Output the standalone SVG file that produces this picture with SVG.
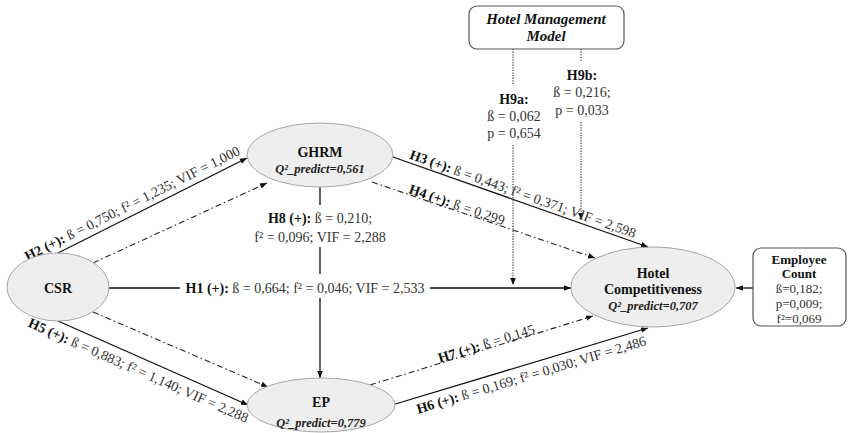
<svg xmlns="http://www.w3.org/2000/svg" width="848" height="433" viewBox="0 0 848 433">
<style>
.bg{fill:#ffffff}
.ell{fill:#eeeeee;stroke:#a6a6a6;stroke-width:1}
.box{fill:#ffffff;stroke:#555555;stroke-width:1.2}
.ln{fill:none;stroke:#111111;stroke-width:1.3}
.dd{fill:none;stroke:#222222;stroke-width:1.1;stroke-dasharray:6 3 1.5 3}
.dt{fill:none;stroke:#444444;stroke-width:1.2;stroke-dasharray:1.3 1.3}
text{font-family:"Liberation Serif","Times New Roman",serif;fill:#333333}
.lbl{font-size:14px}
.b{font-weight:bold;fill:#111111}
.nt{font-size:14px;font-weight:bold;fill:#111111;text-anchor:middle}
.q{font-size:12.5px;font-weight:bold;font-style:italic;fill:#222222;text-anchor:middle}
.mid{text-anchor:middle}
</style>
<defs>
<marker id="ah" viewBox="0 0 10 10" refX="10" refY="5" markerWidth="7" markerHeight="7" markerUnits="userSpaceOnUse" orient="auto">
<path d="M0,1 L10,5 L0,9 Z" fill="#111111"/>
</marker>
</defs>
<rect class="bg" x="0" y="0" width="848" height="433"/>
<g id="connectors">
<path class="ln" d="M58,253 L247,158" marker-end="url(#ah)"/>
<path class="dd" d="M93,263 L267,183" marker-end="url(#ah)"/>
<path class="ln" d="M109,288 L180,288"/>
<path class="ln" d="M430,288 L571,288" marker-end="url(#ah)"/>
<path class="dd" d="M93,312 L268,387" marker-end="url(#ah)"/>
<path class="ln" d="M58,321 L248,405" marker-end="url(#ah)"/>
<path class="ln" d="M320,187 L320,205 M320,247 L320,274"/>
<path class="ln" d="M320,298 L320,378" marker-end="url(#ah)"/>
<path class="ln" d="M393,157 L648,247" marker-end="url(#ah)"/>
<path class="dd" d="M372,182 L595,258" marker-end="url(#ah)"/>
<path class="dd" d="M370,385 L593,316" marker-end="url(#ah)"/>
<path class="ln" d="M392,405 L648,328" marker-end="url(#ah)"/>
<path class="ln" d="M753,288 L736,288" marker-end="url(#ah)"/>
<path class="dt" d="M513,49 L513,85"/>
<path class="dt" d="M513,145 L513,285" marker-end="url(#ah)"/>
<path class="dt" d="M581,49 L581,62"/>
<path class="dt" d="M581,122 L581,220" marker-end="url(#ah)"/>
<g id="labels">
<text class="lbl mid" transform="translate(137,213) rotate(-26.68)" x="0" y="-6"><tspan class="b">H2 (+):</tspan> ß = 0,750; f² = 1,235; VIF = 1,000</text>
<text class="lbl mid" x="305" y="293"><tspan class="b">H1 (+):</tspan> ß = 0,664; f² = 0,046; VIF = 2,533</text>
<text class="lbl mid" transform="translate(143,360) rotate(23.85)" x="0" y="16"><tspan class="b">H5 (+):</tspan> ß = 0,883; f² = 1,140; VIF = 2,288</text>
<text class="lbl mid" x="320" y="223"><tspan class="b">H8 (+):</tspan> ß = 0,210;</text>
<text class="lbl mid" x="320" y="242">f² = 0,096; VIF = 2,288</text>
<text class="lbl mid" transform="translate(520,202) rotate(19.44)" x="0" y="-4"><tspan class="b">H3 (+):</tspan> ß = 0,443; f² = 0,371; VIF = 2,598</text>
<text class="lbl mid" transform="translate(455,210) rotate(18.82)" x="0" y="-1"><tspan class="b">H4 (+):</tspan> ß = 0,299</text>
<text class="lbl mid" transform="translate(488,349) rotate(-17.19)" x="0" y="-1"><tspan class="b">H7 (+):</tspan> ß = 0,145</text>
<text class="lbl mid" transform="translate(528,364) rotate(-16.74)" x="0" y="16"><tspan class="b">H6 (+):</tspan> ß = 0,169; f² = 0,030; VIF = 2,486</text>
<text class="lbl mid b" x="514" y="104">H9a:</text>
<text class="lbl mid" x="514" y="121">ß = 0,062</text>
<text class="lbl mid" x="514" y="138">p = 0,654</text>
<text class="lbl mid b" x="582" y="80">H9b:</text>
<text class="lbl mid" x="582" y="97">ß = 0,216;</text>
<text class="lbl mid" x="582" y="115">p = 0,033</text>
</g>
</g>
<g id="csr">
<ellipse class="ell" cx="58" cy="287" rx="51" ry="34"/>
<text class="nt" x="58" y="293">CSR</text>
</g>
<g id="ghrm">
<ellipse class="ell" cx="320" cy="155" rx="73" ry="32"/>
<text class="nt" x="320" y="157">GHRM</text>
<text class="q" x="320" y="173">Q²_predict=0,561</text>
</g>
<g id="ep">
<ellipse class="ell" cx="321" cy="405" rx="74" ry="27"/>
<text class="nt" x="321" y="407">EP</text>
<text class="q" x="321" y="427">Q²_predict=0,779</text>
</g>
<g id="hotel-competitiveness">
<ellipse class="ell" cx="653" cy="287" rx="82" ry="40"/>
<text class="nt" x="653" y="278">Hotel</text>
<text class="nt" x="653" y="294">Competitiveness</text>
<text class="q" x="653" y="310">Q²_predict=0,707</text>
</g>
<g id="hotel-management-model">
<rect class="box" x="469" y="6" width="155" height="43" rx="8"/>
<text x="546" y="24" style="font-size:15px;font-weight:bold;font-style:italic;fill:#111111;text-anchor:middle">Hotel Management</text>
<text x="546" y="41" style="font-size:15px;font-weight:bold;font-style:italic;fill:#111111;text-anchor:middle">Model</text>
</g>
<g id="employee-count">
<rect class="box" x="753" y="248" width="93" height="78" rx="8"/>
<text x="799" y="264" style="font-size:13px;font-weight:bold;fill:#111111;text-anchor:middle">Employee</text>
<text x="799" y="278" style="font-size:13px;font-weight:bold;fill:#111111;text-anchor:middle">Count</text>
<text x="799" y="293" style="font-size:13px;text-anchor:middle">ß=0,182;</text>
<text x="799" y="308" style="font-size:13px;text-anchor:middle">p=0,009;</text>
<text x="799" y="323" style="font-size:13px;text-anchor:middle">f²=0,069</text>
</g>
</svg>
